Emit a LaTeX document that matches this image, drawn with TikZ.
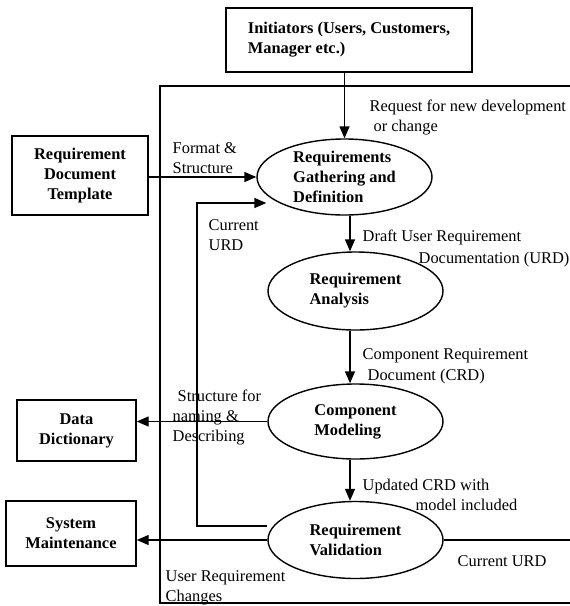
\documentclass[tikz,border=0pt]{standalone}
\usepackage{fontspec}
\setmainfont{Liberation Serif}
\usetikzlibrary{shapes.geometric,arrows.meta}
\begin{document}
\begin{tikzpicture}[x=1pt,y=-1pt,
  font=\fontsize{16.4}{20}\selectfont,
  line width=1.4pt,
  box/.style={draw, rectangle, inner sep=0pt, align=center,
    font=\fontsize{16.4}{20}\selectfont\bfseries},
  proc/.style={draw, ellipse, minimum width=175pt, inner sep=0pt, align=left,
    font=\fontsize{16.4}{20}\selectfont\bfseries},
  lbl/.style={anchor=north west, inner sep=0pt, align=left},
  arr/.style={-{Triangle[length=12pt,width=10pt]}},
]
\useasboundingbox (0,0) rectangle (570,606);

% external entities
\node[box, align=left, minimum width=246pt, minimum height=64pt] (init) at (349,40)
  {Initiators (Users, Customers,\\Manager etc.)};
\node[box, minimum width=136pt, minimum height=79pt] (rdt) at (80,175.5)
  {Requirement\\Document\\Template};
\node[box, minimum width=119pt, minimum height=61pt] (dd) at (76.5,430.5)
  {Data\\Dictionary};
\node[box, minimum width=130pt, minimum height=65pt] (sm) at (71,533.5)
  {System\\Maintenance};

% process steps
\node[proc, minimum height=76pt] (e1) at (344.5,177)
  {Requirements\\Gathering and\\Definition};
\node[proc, minimum height=78pt] (e2) at (355.5,291)
  {Requirement\\Analysis};
\node[proc, minimum height=75pt] (e3) at (355.5,421.5)
  {Component\\Modeling};
\node[proc, minimum height=77pt] (e4) at (355.5,540)
  {Requirement\\Validation};

% helper coordinates
\coordinate (ax) at (350,0);
\coordinate (fb) at (197,203);
\coordinate (tl) at (160,86);
\coordinate (tr) at (570,86);
\coordinate (bl) at (160,603);
\coordinate (br) at (570,603);

% outer loop
\draw (tr) -- (tl) -- (bl) -- (br);
\draw (e4.east) -- (e4.east -| br);

% flows
\draw[arr] (init.south -| e1.north) -- (e1.north);
\draw[arr] (rdt.east |- e1.west) -- (e1.west);
\draw[arr] (e1.south -| ax) -- (e2.north -| ax);
\draw[arr] (e2.south -| ax) -- (e3.north -| ax);
\draw[arr] (e3.south -| ax) -- (e4.north -| ax);
\draw[arr] (e3.west) -- (e3.west -| dd.east);
\draw[arr] (e4.west) -- (e4.west -| sm.east);
\draw[arr] ([yshift=14pt]e4.west) -| (fb) -- ([xshift=10pt]e1.west |- fb);

% flow labels
\node[lbl] (lreq) at (369,99) {Request for new development\\\hspace*{4pt}or change};
\node[lbl] (lfmt) at (172,142) {Format \&\\Structure};
\node[lbl] (lcur) at (208,219) {Current\\URD};
\node[lbl, font=\fontsize{16.4}{22}\selectfont] (ldraft) at (362,229)
  {Draft User Requirement\\\hspace*{56pt}Documentation (URD)};
\node[lbl, font=\fontsize{16.4}{21}\selectfont] (lcomp) at (362,348)
  {Component Requirement\\\hspace*{5pt}Document (CRD)};
\node[lbl] (lstruct) at (172,389) {\hspace*{5pt}Structure for\\naming \&\\Describing};
\node[lbl] (lupd) at (362,478) {Updated CRD with\\\hspace*{53pt}model included};
\node[lbl] (lurc) at (165,570) {User Requirement\\Changes};
\node[lbl] (lcurU) at (457,555) {Current URD};
\end{tikzpicture}
\end{document}
